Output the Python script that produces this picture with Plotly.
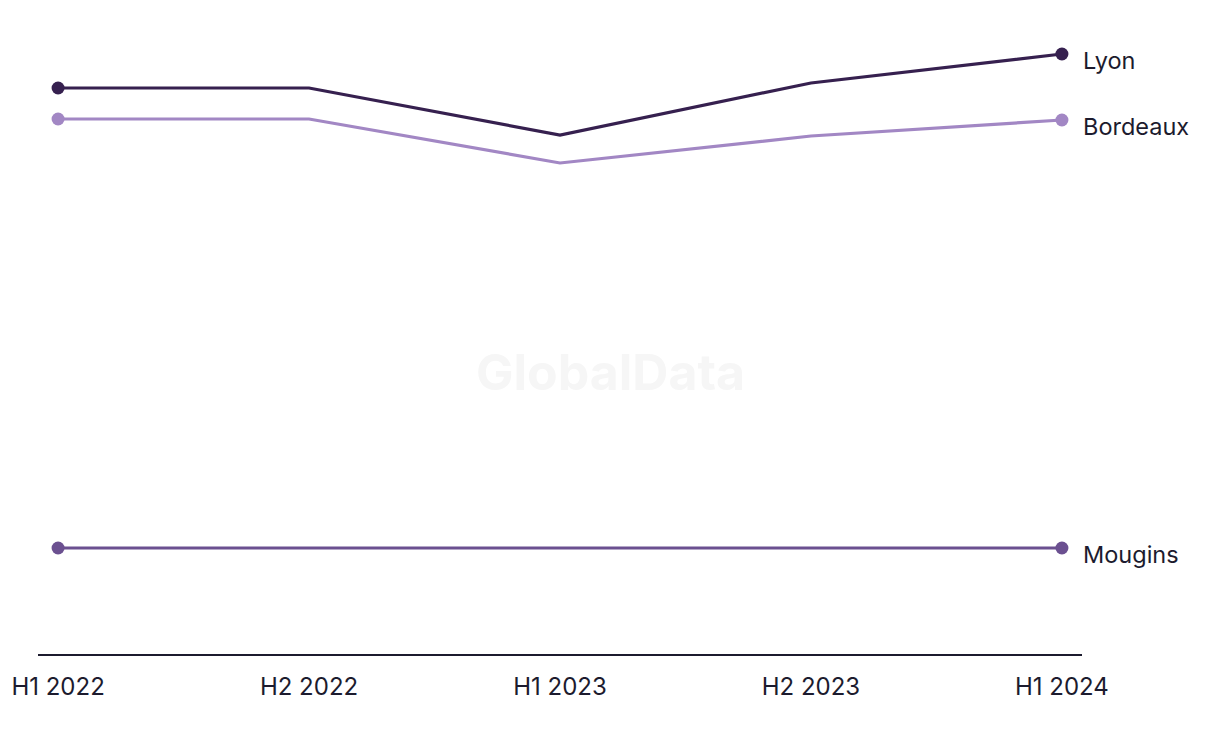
import plotly.graph_objects as go

periods = ["H1 2022", "H2 2022", "H1 2023", "H2 2023", "H1 2024"]
lyon = [5.66, 5.66, 5.19, 5.71, 6.00]
bordeaux = [5.35, 5.35, 4.91, 5.18, 5.34]
mougins = [1.06, 1.06, 1.06, 1.06, 1.06]

series = [("Lyon", lyon, "#36204f"), ("Bordeaux", bordeaux, "#a287c4"), ("Mougins", mougins, "#6b5090")]
FONT = "Inter, Liberation Sans, sans-serif"

fig = go.Figure()
xs = list(range(len(periods)))
for name, vals, col in series:
    fig.add_trace(go.Scatter(
        x=xs, y=vals, mode="lines", name=name,
        line=dict(color=col, width=3.2),
        showlegend=False, hoverinfo="skip",
    ))
    fig.add_trace(go.Scatter(
        x=[xs[0], xs[-1]], y=[vals[0], vals[-1]], mode="markers", name=name,
        marker=dict(size=13, color=col, line=dict(width=0)),
        showlegend=False, hoverinfo="skip",
    ))
    fig.add_annotation(
        x=xs[-1], y=vals[-1], text=name, showarrow=False,
        xanchor="left", yanchor="middle", xshift=19, yshift=-6,
        font=dict(size=23.5, color="#1c1b2e", family=FONT),
    )

fig.add_annotation(
    x=0.548, y=0.445, xref="paper", yref="paper", text="<b>GlobalData</b>",
    showarrow=False, font=dict(size=50, color="#f6f6f6", family=FONT),
)

fig.update_layout(
    width=1220, height=744,
    margin=dict(l=30, r=146, t=12, b=98, autoexpand=False),
    plot_bgcolor="white", paper_bgcolor="white",
    font=dict(family=FONT, size=24, color="#1c1b2e"),
    xaxis=dict(
        tickmode="array", tickvals=xs, ticktext=periods,
        range=[-0.08, 4.08], showgrid=False, zeroline=False,
        showline=True, linecolor="#1c1b2e", linewidth=2,
        ticks="", ticklabelstandoff=10, automargin=False,
    ),
    yaxis=dict(range=[0, 6.34], visible=False, showgrid=False, zeroline=False, automargin=False),
)

fig.write_html("out.html")
